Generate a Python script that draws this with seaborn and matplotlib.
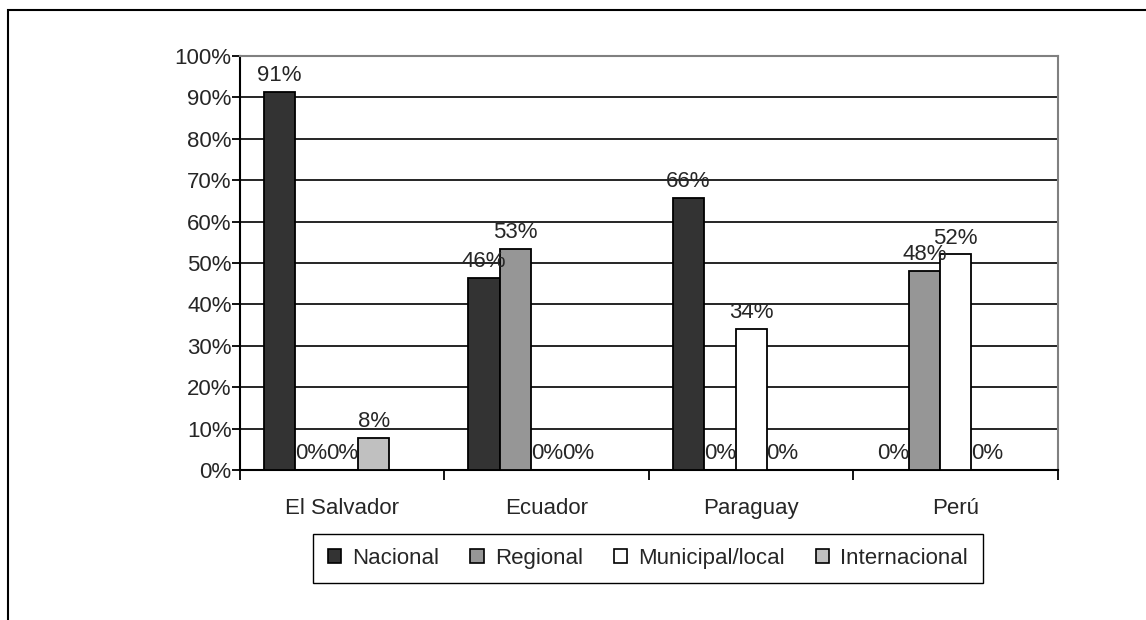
import matplotlib
matplotlib.use("Agg")
import matplotlib.pyplot as plt
from matplotlib.patches import Patch, Rectangle
from matplotlib.ticker import PercentFormatter, FixedLocator, NullFormatter
import seaborn as sns
import pandas as pd

paises = ["El Salvador", "Ecuador", "Paraguay", "Perú"]
series = ["Nacional", "Regional", "Municipal/local", "Internacional"]
nacional = [91.4, 46.4, 65.8, 0]
regional = [0, 53.4, 0, 48.1]
municipal = [0, 0, 34.1, 52.1]
internacional = [7.8, 0, 0, 0]
colores = ["#333333", "#969696", "#ffffff", "#c0c0c0"]
y_ticks = [0, 10, 20, 30, 40, 50, 60, 70, 80, 90, 100]

rows = []
for nombre, vals in zip(series, [nacional, regional, municipal, internacional]):
    for p, v in zip(paises, vals):
        rows.append({"pais": p, "nivel": nombre, "valor": v})
df = pd.DataFrame(rows)

sns.set_style("white")
plt.rcParams["font.family"] = ["Liberation Sans", "DejaVu Sans"]
FS = 16

fig = plt.figure(figsize=(11.46, 6.2), dpi=100)
ax = fig.add_axes([0.2094, 0.2419, 0.7138, 0.6678])

# the original chart reserves room for a fifth (empty) series
orden = series + [" "]
paleta = dict(zip(orden, colores + ["#ffffff"]))
sns.barplot(
    data=df, x="pais", y="valor", hue="nivel", hue_order=orden,
    palette=paleta, width=0.769, edgecolor="black", linewidth=1.3,
    saturation=1, legend=False, ax=ax, zorder=3,
)

for cont, vals in zip(ax.containers, [nacional, regional, municipal, internacional]):
    ax.bar_label(cont, labels=[f"{v:.0f}%" for v in vals], padding=4,
                 fontsize=FS, zorder=4)

ax.set_ylim(0, 100)
ax.set_xlim(-0.5, 3.5)
ax.yaxis.set_major_locator(FixedLocator(y_ticks))
ax.yaxis.set_major_formatter(PercentFormatter(100, decimals=0))
for y in y_ticks[1:-1]:
    ax.axhline(y, color="black", lw=1.2, zorder=1)

ax.xaxis.set_major_locator(FixedLocator([-0.5, 0.5, 1.5, 2.5, 3.5]))
ax.xaxis.set_major_formatter(NullFormatter())
ax.xaxis.set_minor_locator(FixedLocator(range(len(paises))))
ax.set_xticklabels(paises, minor=True)
ax.tick_params(axis="x", which="major", direction="out", length=7, width=1.3,
               color="black", bottom=True)
ax.tick_params(axis="x", which="minor", length=0, pad=20, labelsize=FS)
ax.tick_params(axis="y", direction="out", length=6, width=1.3, color="black",
               left=True, pad=0, labelsize=FS)
ax.set_xlabel("")
ax.set_ylabel("")

for s in ["left", "bottom"]:
    ax.spines[s].set_color("black")
    ax.spines[s].set_linewidth(1.5)
for s in ["top", "right"]:
    ax.spines[s].set_color("#808080")
    ax.spines[s].set_linewidth(1.5)

handles = [Patch(facecolor=c, edgecolor="black", linewidth=1.2) for c in colores]
fig.legend(handles, series, loc="center", bbox_to_anchor=(0.5654, 0.0992),
           ncol=4, fontsize=FS, frameon=True, fancybox=False, edgecolor="black",
           handlelength=0.6, handleheight=0.6, handletextpad=0.5,
           columnspacing=1.4, borderpad=0.65, framealpha=1)

# outer chart frame, partly cut off at the right and bottom
fig.add_artist(Rectangle((8 / 1146, -0.1), 1.2, 1.1 - 10 / 620,
                         transform=fig.transFigure, fill=False,
                         edgecolor="black", linewidth=1.5))

fig.savefig("out.png", dpi=100)
